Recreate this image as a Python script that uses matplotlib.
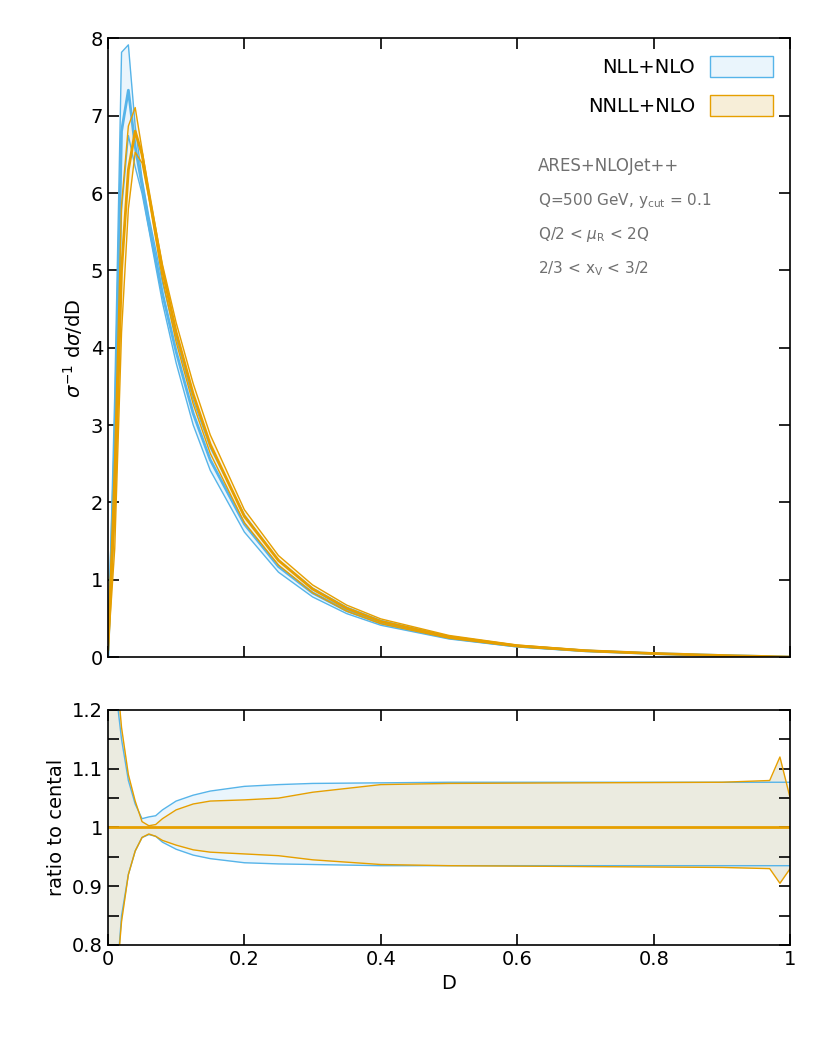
import numpy as np
import matplotlib
matplotlib.use("Agg")
import matplotlib.pyplot as plt
from matplotlib.patches import Patch
from matplotlib.ticker import MultipleLocator

D = [0.0, 0.01, 0.02, 0.03, 0.04, 0.05, 0.06, 0.08, 0.1, 0.125, 0.15, 0.2, 0.25, 0.3, 0.35, 0.4, 0.5, 0.6, 0.7, 0.8, 0.9, 1.0]
nll = [0.0, 2.7, 6.8, 7.33, 6.6, 6.1, 5.6, 4.7, 3.95, 3.15, 2.55, 1.72, 1.17, 0.83, 0.6, 0.44, 0.25, 0.14, 0.08, 0.045, 0.02, 0.0]
nnll = [0.1, 2.0, 5.0, 6.3, 6.8, 6.5, 6.0, 5.0, 4.2, 3.4, 2.75, 1.82, 1.25, 0.88, 0.63, 0.46, 0.26, 0.145, 0.082, 0.046, 0.02, 0.0]

RD = [0.0, 0.01, 0.02, 0.03, 0.04, 0.05, 0.06, 0.07, 0.08, 0.1, 0.125, 0.15, 0.2, 0.25, 0.3, 0.4, 0.5, 0.9, 0.97, 0.985, 1.0]
nll_up = [1.45, 1.25, 1.15, 1.08, 1.04, 1.015, 1.018, 1.02, 1.03, 1.045, 1.055, 1.062, 1.07, 1.073, 1.075, 1.076, 1.077, 1.077, 1.077, 1.077, 1.077]
nll_lo = [0.55, 0.7, 0.85, 0.92, 0.96, 0.983, 0.988, 0.985, 0.975, 0.963, 0.953, 0.947, 0.94, 0.938, 0.937, 0.935, 0.935, 0.935, 0.935, 0.935, 0.935]
nnll_up = [1.4, 1.3, 1.17, 1.09, 1.045, 1.01, 1.003, 1.005, 1.015, 1.03, 1.04, 1.045, 1.047, 1.05, 1.06, 1.073, 1.075, 1.077, 1.08, 1.12, 1.05]
nnll_lo = [0.6, 0.7, 0.84, 0.92, 0.96, 0.983, 0.989, 0.985, 0.978, 0.97, 0.962, 0.958, 0.955, 0.952, 0.945, 0.937, 0.935, 0.932, 0.93, 0.905, 0.93]

BLUE = "#56b4e9"; ORANGE = "#e69f00"
D = np.array(D); nll = np.array(nll); nnll = np.array(nnll)
nu = nll * np.interp(D, RD, nll_up); nl = nll * np.interp(D, RD, nll_lo)
ou = nnll * np.interp(D, RD, nnll_up); ol = nnll * np.interp(D, RD, nnll_lo)

fig = plt.figure(figsize=(8.3, 10.38), dpi=100)
ax = fig.add_axes([0.130, 0.367, 0.822, 0.596])
ax2 = fig.add_axes([0.130, 0.0896, 0.822, 0.2264])

ax.fill_between(D, nl, nu, color="#eaf5fc", lw=0)
ax.fill_between(D, ol, ou, color="#f7eed8", alpha=0.6, lw=0)
for y in (nl, nu): ax.plot(D, y, color=BLUE, lw=1)
ax.plot(D, nll, color=BLUE, lw=2)
for y in (ol, ou): ax.plot(D, y, color=ORANGE, lw=1)
ax.plot(D, nnll, color=ORANGE, lw=2)
ax.set_xlim(0, 1); ax.set_ylim(0, 8)
ax.set_xticks([0, 0.2, 0.4, 0.6, 0.8, 1]); ax.set_xticklabels([])
ax.set_ylabel(r"$\sigma^{-1}$ d$\sigma$/dD", fontsize=14)
ax.legend([Patch(facecolor="#eaf5fc", edgecolor=BLUE), Patch(facecolor="#f7eed8", edgecolor=ORANGE)],
          ["NLL+NLO", "NNLL+NLO"], loc="upper right", frameon=False, fontsize=14,
          markerfirst=False, handlelength=3.2, handleheight=1.3, labelspacing=0.9)
g = "#707070"
ax.text(0.63, 0.785, "ARES+NLOJet++", transform=ax.transAxes, color=g, fontsize=12)
ax.text(0.63, 0.73, r"Q=500 GeV, y$_{\rm cut}$ = 0.1", transform=ax.transAxes, color=g, fontsize=11)
ax.text(0.63, 0.675, r"Q/2 < $\mu_{\rm R}$ < 2Q", transform=ax.transAxes, color=g, fontsize=11)
ax.text(0.63, 0.62, r"2/3 < x$_{\rm V}$ < 3/2", transform=ax.transAxes, color=g, fontsize=11)

ax2.fill_between(RD, nll_lo, nll_up, color="#eaf5fc", lw=0)
ax2.fill_between(RD, nnll_lo, nnll_up, color="#ebebe0", lw=0)
ax2.plot(RD, nll_up, color=BLUE, lw=1); ax2.plot(RD, nll_lo, color=BLUE, lw=1)
ax2.plot(RD, nnll_up, color=ORANGE, lw=1); ax2.plot(RD, nnll_lo, color=ORANGE, lw=1)
ax2.axhline(1, color=ORANGE, lw=2)
ax2.set_xlim(0, 1); ax2.set_ylim(0.8, 1.2)
ax2.set_xticks([0, 0.2, 0.4, 0.6, 0.8, 1]); ax2.set_xticklabels(["0", "0.2", "0.4", "0.6", "0.8", "1"])
ax2.set_yticks([0.8, 0.9, 1.0, 1.1, 1.2]); ax2.set_yticklabels(["0.8", "0.9", "1", "1.1", "1.2"])
ax2.set_ylabel("ratio to cental", fontsize=14)
ax2.set_xlabel("D", fontsize=14)
for a in (ax, ax2):
    a.tick_params(direction="in", top=True, right=True, labelsize=14, length=8, width=1.2)
    for s in a.spines.values(): s.set_linewidth(1.2)
ax2.yaxis.set_minor_locator(MultipleLocator(0.05))
ax2.tick_params(which="minor", direction="in", right=True, length=8, width=1.2)
fig.savefig("out.png", dpi=100)
